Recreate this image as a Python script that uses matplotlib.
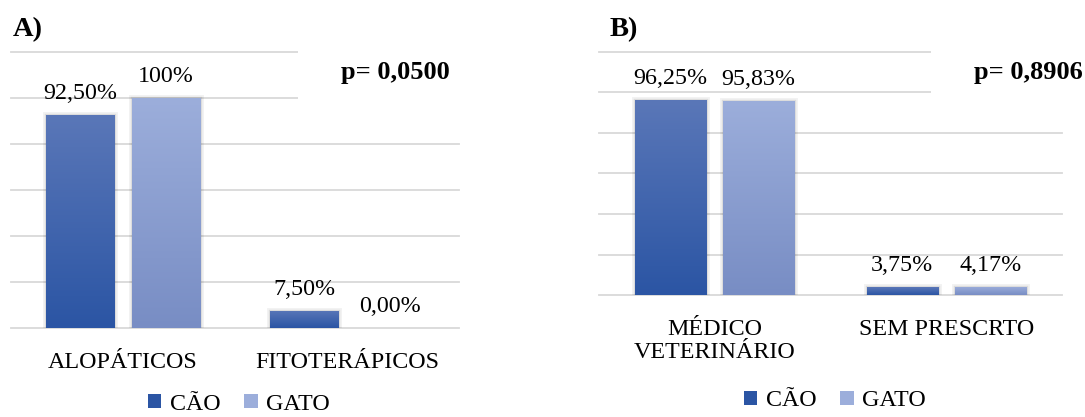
import matplotlib
matplotlib.use('Agg')
import matplotlib.pyplot as plt
import matplotlib.patheffects as pe
from matplotlib.colors import LinearSegmentedColormap
from matplotlib.patches import Patch
import numpy as np

plt.rcParams['font.family'] = ['Liberation Serif', 'DejaVu Serif']

series = ['CÃO', 'GATO']

cats_a = ['ALOPÁTICOS', 'FITOTERÁPICOS']
cao_a = [92.50, 7.50]
gato_a = [100.0, 0.00]
labels_a = [['92,50%', '7,50%'], ['100%', '0,00%']]
p_a = 'p= 0,0500'

cats_b = ['MÉDICO\nVETERINÁRIO', 'SEM PRESCRTO']
cao_b = [96.25, 3.75]
gato_b = [95.83, 4.17]
labels_b = [['96,25%', '3,75%'], ['95,83%', '4,17%']]
p_b = 'p= 0,8906'

# (top colour, bottom colour) of each series gradient
grads = [('#5a77b8', '#2b55a4'), ('#9caedb', '#788dc4')]

FS = 17.3


def gradient_bar(ax, bar, top, bottom):
    x, y = bar.get_xy()
    w, h = bar.get_width(), bar.get_height()
    if h <= 0:
        return
    cmap = LinearSegmentedColormap.from_list('g', [bottom, top])
    grad = np.linspace(0, 1, 256).reshape(-1, 1)
    im = ax.imshow(grad, cmap=cmap, extent=[x, x + w, y, y + h],
                   origin='lower', aspect='auto', zorder=3)
    im.set_clip_path(bar)


def panel(ax, cats, vals, labels, width, gap):
    x = np.arange(len(cats))
    off = width / 2 + gap / 2
    shadow = [pe.Stroke(linewidth=5, foreground='black', alpha=0.05),
              pe.Stroke(linewidth=2.5, foreground='black', alpha=0.09),
              pe.Normal()]
    for i, (v, lab) in enumerate(zip(vals, labels)):
        pos = x + (i * 2 - 1) * off
        bars = ax.bar(pos, v, width, color=grads[i][1], zorder=2,
                      label=series[i])
        for b, val, t in zip(bars, v, lab):
            if val > 0:
                b.set_path_effects(shadow)
            gradient_bar(ax, b, *grads[i])
            ax.annotate(t, (b.get_x() + b.get_width() / 2, val),
                        xytext=(0, 11.5), textcoords='offset points',
                        ha='center', va='baseline', fontsize=FS)
    ax.set_xlim(-0.5, len(cats) - 0.5)
    ax.set_ylim(0, 120)
    ax.set_yticks(np.arange(0, 121, 20))
    ax.set_xticks(x)
    ax.set_xticklabels(cats, fontsize=FS, va='top', linespacing=1.15)
    ax.tick_params(axis='x', length=0, pad=17)
    ax.tick_params(axis='y', length=0, labelleft=False)
    ax.grid(axis='y', color='#d9d9d9', linewidth=1.3, clip_on=False)
    ax.set_axisbelow(True)
    for s in ax.spines.values():
        s.set_visible(False)
    return ax


fig = plt.figure(figsize=(10.85, 4.17), dpi=100)
W, H = 1085, 417

ax_a = fig.add_axes([11 / W, 89 / H, 448 / W, 276 / H])
panel(ax_a, cats_a, [cao_a, gato_a], labels_a, 0.304, 0.08)
ax_b = fig.add_axes([599 / W, 122 / H, 463 / W, 243 / H])
panel(ax_b, cats_b, [cao_b, gato_b], labels_b, 0.307, 0.073)

# p-values sit in white boxes that hide the upper gridlines
box = dict(facecolor='white', edgecolor='none', boxstyle='square,pad=1.6')
fig.text(395 / W, 1 - 73 / H, p_a, fontsize=19, fontweight='bold',
         ha='center', va='center', bbox=box, zorder=5)
fig.text(1028 / W, 1 - 73 / H, p_b, fontsize=19, fontweight='bold',
         ha='center', va='center', bbox=box, zorder=5)

fig.text(13 / W, 1 - 30 / H, 'A)', fontsize=20.5, fontweight='bold',
         ha='left', va='center')
fig.text(610 / W, 1 - 30 / H, 'B)', fontsize=20.5, fontweight='bold',
         ha='left', va='center')

handles = [Patch(facecolor=grads[0][1]), Patch(facecolor=grads[1][0])]
for cx, cy in [(239, 404), (835, 401)]:
    fig.legend(handles, series, loc='center',
               bbox_to_anchor=(cx / W, 1 - cy / H), ncol=2, frameon=False,
               fontsize=FS, handlelength=0.55, handleheight=0.55,
               handletextpad=0.35, columnspacing=1.0, borderaxespad=0)

fig.savefig('out.png', dpi=100)
